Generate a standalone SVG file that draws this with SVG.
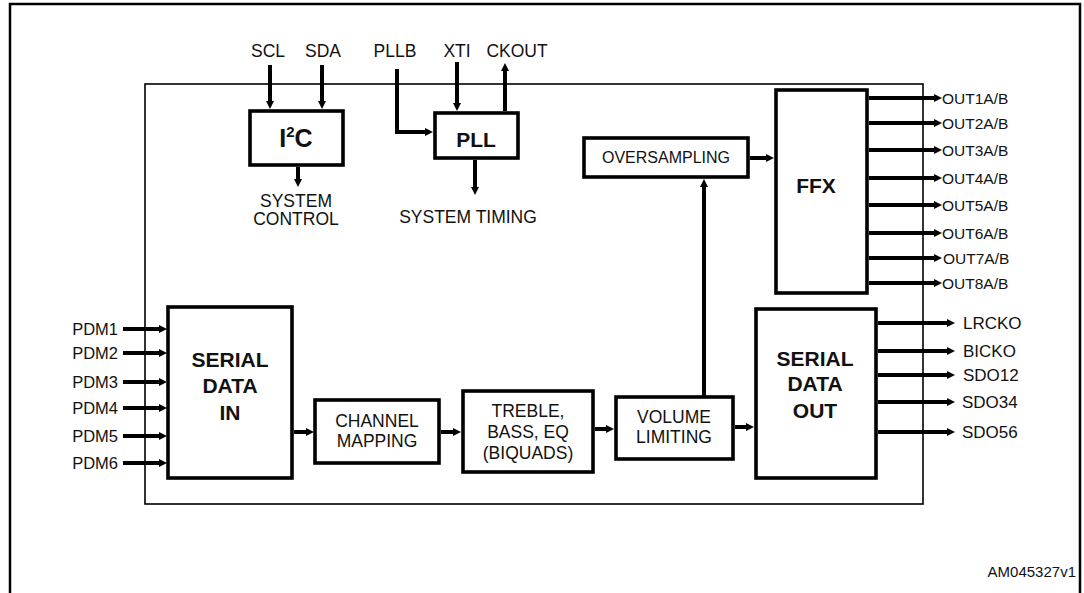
<svg xmlns="http://www.w3.org/2000/svg" width="1084" height="593" viewBox="0 0 1084 593">
<defs>
<marker id="ah" markerUnits="userSpaceOnUse" markerWidth="9" markerHeight="9" refX="2" refY="4" orient="auto">
<path d="M0,0 L8,4 L0,8 z" fill="#000"/>
</marker>
<style>
.frame{fill:none;stroke:#000;stroke-width:2.5}
.chip{fill:none;stroke:#000;stroke-width:1.6}
.box{fill:#fff;stroke:#000;stroke-width:3.6}
.wire{fill:none;stroke:#000;stroke-width:4;marker-end:url(#ah)}
text{font-family:"Liberation Sans",Arial,sans-serif;fill:#111}
.lbl{font-size:17.5px}
.pin{font-size:16.5px}
.out{font-size:15.5px}
.sdo{font-size:17px}
.b{font-weight:bold;font-size:21px}
.m{text-anchor:middle}
.e{text-anchor:end}
</style>
</defs>
<rect width="1084" height="593" fill="#fff"/>
<path class="frame" d="M10,593 V4 H1080 V593"/>
<rect id="chip" class="chip" x="145" y="84" width="778" height="420"/>

<g id="connectors">
<line class="wire" x1="123" y1="329" x2="161" y2="329"/>
<line class="wire" x1="123" y1="353" x2="161" y2="353"/>
<line class="wire" x1="123" y1="382" x2="161" y2="382"/>
<line class="wire" x1="123" y1="408" x2="161" y2="408"/>
<line class="wire" x1="123" y1="436" x2="161" y2="436"/>
<line class="wire" x1="123" y1="463" x2="161" y2="463"/>
<line class="wire" x1="294" y1="432" x2="308" y2="432"/>
<line class="wire" x1="441" y1="432" x2="455" y2="432"/>
<line class="wire" x1="595" y1="429" x2="608" y2="429"/>
<line class="wire" x1="735" y1="427" x2="748" y2="427"/>
<line class="wire" x1="704" y1="397" x2="704" y2="185"/>
<line class="wire" x1="750" y1="158" x2="768" y2="158"/>
<line class="wire" x1="869" y1="98" x2="936" y2="98"/>
<line class="wire" x1="869" y1="123" x2="936" y2="123"/>
<line class="wire" x1="869" y1="150" x2="936" y2="150"/>
<line class="wire" x1="869" y1="178" x2="936" y2="178"/>
<line class="wire" x1="869" y1="205" x2="936" y2="205"/>
<line class="wire" x1="869" y1="233" x2="936" y2="233"/>
<line class="wire" x1="869" y1="258" x2="936" y2="258"/>
<line class="wire" x1="869" y1="283" x2="936" y2="283"/>
<line class="wire" x1="878" y1="323" x2="949" y2="323"/>
<line class="wire" x1="878" y1="351" x2="949" y2="351"/>
<line class="wire" x1="878" y1="375" x2="949" y2="375"/>
<line class="wire" x1="878" y1="402" x2="949" y2="402"/>
<line class="wire" x1="878" y1="432" x2="949" y2="432"/>
<line class="wire" x1="270" y1="65" x2="270" y2="103"/>
<line class="wire" x1="322" y1="65" x2="322" y2="103"/>
<path class="wire" d="M397,69 V132 H427"/>
<line class="wire" x1="457" y1="62" x2="457" y2="105"/>
<line class="wire" x1="505" y1="111" x2="505" y2="69"/>
<line class="wire" x1="298" y1="167" x2="298" y2="181"/>
<line class="wire" x1="475" y1="160" x2="475" y2="189"/>
</g>

<g id="i2c">
<rect class="box" x="250" y="111" width="93" height="54"/>
<text class="m" x="296" y="147" font-weight="bold" font-size="25">I<tspan font-size="15" dy="-10">2</tspan><tspan dy="10">C</tspan></text>
</g>
<g id="pll">
<rect class="box" x="435" y="113" width="83" height="45"/>
<text class="b m" x="476" y="147">PLL</text>
</g>
<g id="oversampling">
<rect class="box" x="584" y="138" width="164" height="39"/>
<text class="m" x="666" y="163" font-size="16">OVERSAMPLING</text>
</g>
<g id="ffx">
<rect class="box" x="776" y="90" width="91" height="203"/>
<text class="b m" x="816" y="193">FFX</text>
</g>
<g id="serial-in">
<rect class="box" x="168" y="307" width="124" height="171"/>
<text class="b m" x="230" y="367">SERIAL</text>
<text class="b m" x="230" y="393">DATA</text>
<text class="b m" x="230" y="420">IN</text>
</g>
<g id="channel-mapping">
<rect class="box" x="315" y="400" width="124" height="63"/>
<text class="lbl m" x="377" y="427">CHANNEL</text>
<text class="lbl m" x="377" y="447">MAPPING</text>
</g>
<g id="treble">
<rect class="box" x="463" y="391" width="130" height="81"/>
<text class="lbl m" x="528" y="417">TREBLE,</text>
<text class="lbl m" x="528" y="438">BASS, EQ</text>
<text class="lbl m" x="528" y="459">(BIQUADS)</text>
</g>
<g id="volume">
<rect class="box" x="616" y="397" width="117" height="62"/>
<text class="lbl m" x="674" y="423">VOLUME</text>
<text class="lbl m" x="674" y="443">LIMITING</text>
</g>
<g id="serial-out">
<rect class="box" x="756" y="309" width="120" height="169"/>
<text class="b m" x="815" y="366">SERIAL</text>
<text class="b m" x="815" y="391">DATA</text>
<text class="b m" x="815" y="418">OUT</text>
</g>

<g id="labels">
<text class="lbl m" x="268" y="57">SCL</text>
<text class="lbl m" x="323" y="57">SDA</text>
<text class="lbl m" x="395" y="57">PLLB</text>
<text class="lbl m" x="457" y="57">XTI</text>
<text class="lbl m" x="517" y="57">CKOUT</text>
<text class="lbl m" x="296" y="207">SYSTEM</text>
<text class="lbl m" x="296" y="225">CONTROL</text>
<text class="lbl m" x="468" y="223">SYSTEM TIMING</text>
<text class="pin e" x="118" y="335">PDM1</text>
<text class="pin e" x="118" y="359">PDM2</text>
<text class="pin e" x="118" y="388">PDM3</text>
<text class="pin e" x="118" y="414">PDM4</text>
<text class="pin e" x="118" y="442">PDM5</text>
<text class="pin e" x="118" y="469">PDM6</text>
<text class="out" x="942" y="104">OUT1A/B</text>
<text class="out" x="942" y="129">OUT2A/B</text>
<text class="out" x="942" y="156">OUT3A/B</text>
<text class="out" x="942" y="184">OUT4A/B</text>
<text class="out" x="942" y="211">OUT5A/B</text>
<text class="out" x="942" y="239">OUT6A/B</text>
<text class="out" x="943" y="264">OUT7A/B</text>
<text class="out" x="942" y="289">OUT8A/B</text>
<text class="sdo" x="963" y="329">LRCKO</text>
<text class="sdo" x="963" y="357">BICKO</text>
<text class="sdo" x="963" y="381">SDO12</text>
<text class="sdo" x="962" y="408">SDO34</text>
<text class="sdo" x="962" y="438">SDO56</text>
<text x="1076" y="577" font-size="15" text-anchor="end">AM045327v1</text>
</g>
</svg>
